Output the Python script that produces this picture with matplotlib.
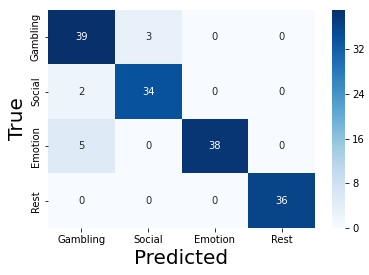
import numpy as np
import matplotlib
matplotlib.use("Agg")
import matplotlib.pyplot as plt
import seaborn as sns

labels = ["Gambling", "Social", "Emotion", "Rest"]
gambling = [39, 3, 0, 0]
social = [2, 34, 0, 0]
emotion = [5, 0, 38, 0]
rest = [0, 0, 0, 36]
cbar_ticks = [0, 8, 16, 24, 32]

cm = np.array([gambling, social, emotion, rest])

fig = plt.figure(figsize=(369 / 72, 275 / 72), dpi=72)
ax = fig.add_axes([0.130, 0.171, 0.724, 0.793])
cax = fig.add_axes([0.900, 0.171, 0.035, 0.793])

sns.heatmap(cm, annot=True, fmt="d", cmap="Blues", ax=ax, cbar_ax=cax,
            xticklabels=labels, yticklabels=labels,
            cbar_kws={"ticks": cbar_ticks})

ax.set_xlabel("Predicted", fontsize=20)
ax.set_ylabel("True", fontsize=20)

fig.savefig("out.png", dpi=72)
